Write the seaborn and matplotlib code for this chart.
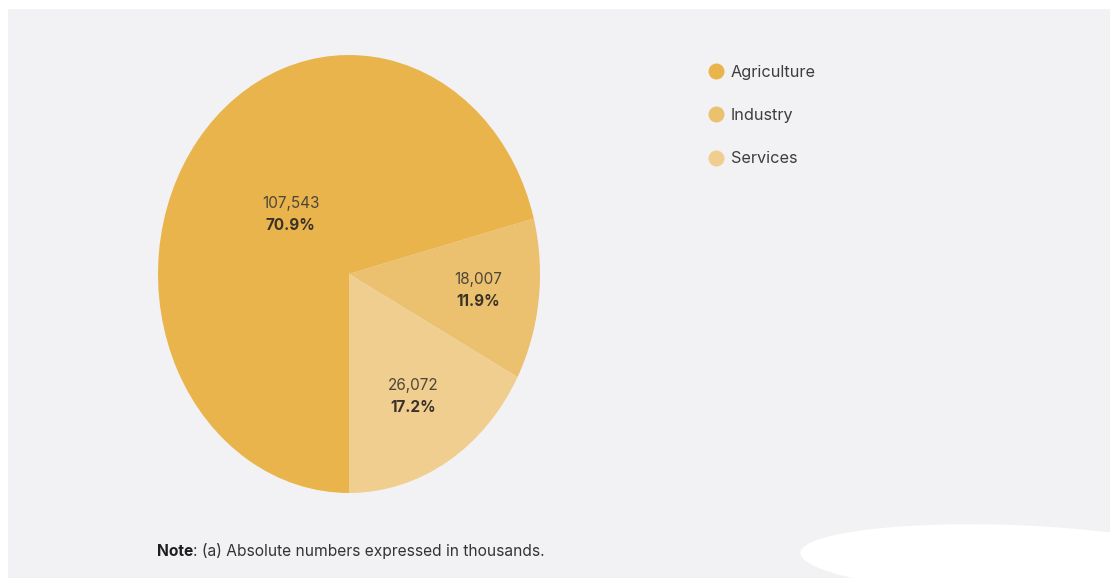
import numpy as np
import matplotlib
matplotlib.use("Agg")
import matplotlib.pyplot as plt
from matplotlib.patches import Rectangle, Ellipse
from matplotlib.lines import Line2D
import seaborn as sns

# ---- data ----
categories = ["Agriculture", "Industry", "Services"]
values = [107543, 18007, 26072]
value_labels = ["107,543", "18,007", "26,072"]
pct_labels = ["70.9%", "11.9%", "17.2%"]
colors = ["#E9B44C", "#EBC06E", "#EFCE8F"]

sns.set_theme(style="white")
plt.rcParams['font.family'] = ['Inter', 'DejaVu Sans']

W, H = 1110, 581
fig = plt.figure(figsize=(W / 100, H / 100), dpi=100, facecolor="white")

# gray panel
fig.patches.append(Rectangle((8 / W, 3 / H), 1 - 8 / W, (572 - 3) / H,
                             transform=fig.transFigure, facecolor="#F2F2F4",
                             edgecolor="none", zorder=-2))
# white smudge bottom-right
fig.patches.append(Ellipse((1010 / W, 1 - 560 / H), 420 / W, 70 / H, angle=-4,
                           transform=fig.transFigure, facecolor="white",
                           edgecolor="none", zorder=-1))

ax = fig.add_axes([158 / W, (581 - 493) / H, 382 / W, 438 / H])
ax.set_facecolor("none")
wedges, _ = ax.pie(values, colors=colors, startangle=-90, counterclock=False,
                   wedgeprops=dict(linewidth=0))
ax.set_aspect("auto")
ax.set_xlim(-1, 1)
ax.set_ylim(-1, 1)
ax.axis("off")

# labels inside slices
dist = [0.409, 0.68, 0.65]
ang_nudge = [-3.9, 0.5, 0.0]
for w, vl, pl, d, dn in zip(wedges, value_labels, pct_labels, dist, ang_nudge):
    ang = np.deg2rad((w.theta1 + w.theta2) / 2 + dn)
    x, y = d * np.cos(ang), d * np.sin(ang)
    ax.text(x, y + 0.05, vl, ha="center", va="center", fontsize=11,
            color="#4f463a")
    ax.text(x, y - 0.05, pl, ha="center", va="center", fontsize=11,
            color="#3a3228", fontweight="bold")

# legend
handles = [Line2D([0], [0], marker="o", linestyle="none", markersize=11.5,
                  markerfacecolor=c, markeredgecolor="none") for c in colors]
fig.legend(handles, categories, loc="upper left",
           bbox_to_anchor=(696 / W, 1 - 58 / H), frameon=False,
           fontsize=11.7, labelspacing=1.75, handletextpad=0.15,
           handlelength=1.6, labelcolor="#3d3d3d", borderaxespad=0)

# note
t1 = fig.text(157 / W, 1 - 551 / H, "Note", fontsize=11.2, fontweight="bold",
              color="#1e1e1e", va="center", ha="left")
fig.canvas.draw()
bb = t1.get_window_extent()
fig.text(bb.x1 / W, 1 - 551 / H, ": (a) Absolute numbers expressed in thousands.",
         fontsize=11.2, color="#333333", va="center", ha="left")

fig.savefig("out.png", dpi=100, facecolor="white")
